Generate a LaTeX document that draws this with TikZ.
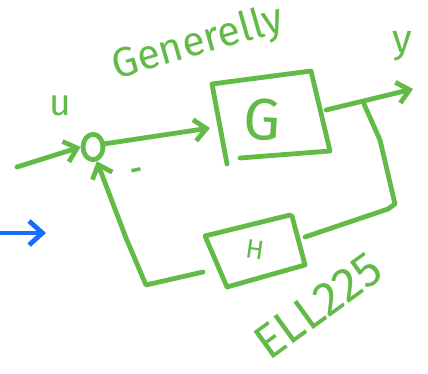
\documentclass[tikz,border=0pt]{standalone}
\usepackage{fontspec}
\setsansfont{Fira Sans}
\usetikzlibrary{arrows.meta,shapes.geometric}
\definecolor{pen}{RGB}{98,187,70}
\definecolor{bluepen}{RGB}{20,110,255}
\tikzset{
  ink/.style={draw=pen, line width=3.6pt, line cap=round, line join=round},
  flow/.style={ink, -{Straight Barb[length=9pt,width=16pt,line width=3.6pt]}},
  sumjunction/.style={ellipse, ink, minimum width=15pt, minimum height=19pt, inner sep=0pt},
  hand/.style={text=pen, inner sep=1pt},
}
\begin{document}
\begin{tikzpicture}[x=0.75pt,y=-0.75pt]
\useasboundingbox (0,0) rectangle (428,374);

% title
\node[hand, rotate=16, font=\sffamily\fontsize{31}{34}\selectfont] (title) at (198,44) {Generelly};

% summing junction and its input
\node[sumjunction] (sum) at (93,147) {};
\coordinate (uin) at (17,167);
\draw[flow] (uin) -- (sum.west);
\node[hand, font=\sffamily\fontsize{28}{30}\selectfont] (u) at (60,106) {u};
\node[hand, font=\sffamily\bfseries\fontsize{22}{24}\selectfont, rotate=12] (minus) at (137,174) {-};

% forward block G
\coordinate (g1) at (212,84);
\coordinate (g2) at (311,71);
\coordinate (g3) at (330,151);
\coordinate (g4) at (227,164);
\draw[ink] (g4) -- (g1) -- (g2) -- (g3) -- (240,158);
\node[hand, font=\sffamily\fontsize{44}{46}\selectfont, rotate=-4] (G) at (262,120) {G};
\coordinate (gin) at (210,128);
\coordinate (gout) at (326,110);
\draw[flow] (sum.15) -- (gin);

% output
\coordinate (yend) at (413,89);
\draw[flow] (gout) -- (yend);
\node[hand, font=\sffamily\fontsize{30}{32}\selectfont] (y) at (402,46) {y};

% feedback block H
\coordinate (h1) at (205,236);
\coordinate (h2) at (290,215);
\coordinate (h3) at (305,265);
\coordinate (h4) at (227,287);
\draw[ink] (h2) -- (h1) -- (h4) -- (h3) -- (292,216);
\node[hand, font=\sffamily\fontsize{20}{22}\selectfont, rotate=-8] (H) at (255,250) {H};

% feedback path
\coordinate (branch) at (364,104);
\coordinate (c1) at (395,204);
\coordinate (hin) at (305,237);
\coordinate (hout) at (203,272);
\coordinate (c2) at (146,285);
\coordinate (c3) at (126,238);
\draw[ink] (branch) -- (380,140) -- (c1) -- (388,209) -- (hin);
\draw[flow] (hout) -- (c2) -- (c3) -- (sum.-75);

% course code
\node[hand, rotate=36, font=\sffamily\fontsize{36}{38}\selectfont] (code) at (318,306) {ELL225};

% blue pointer
\coordinate (p0) at (0,233);
\coordinate (p1) at (46,233);
\draw[draw=bluepen, line width=3.6pt, line cap=round, line join=round,
  -{Straight Barb[length=10pt,width=18pt,line width=3.6pt]}] (p0) -- (p1);
\end{tikzpicture}
\end{document}
